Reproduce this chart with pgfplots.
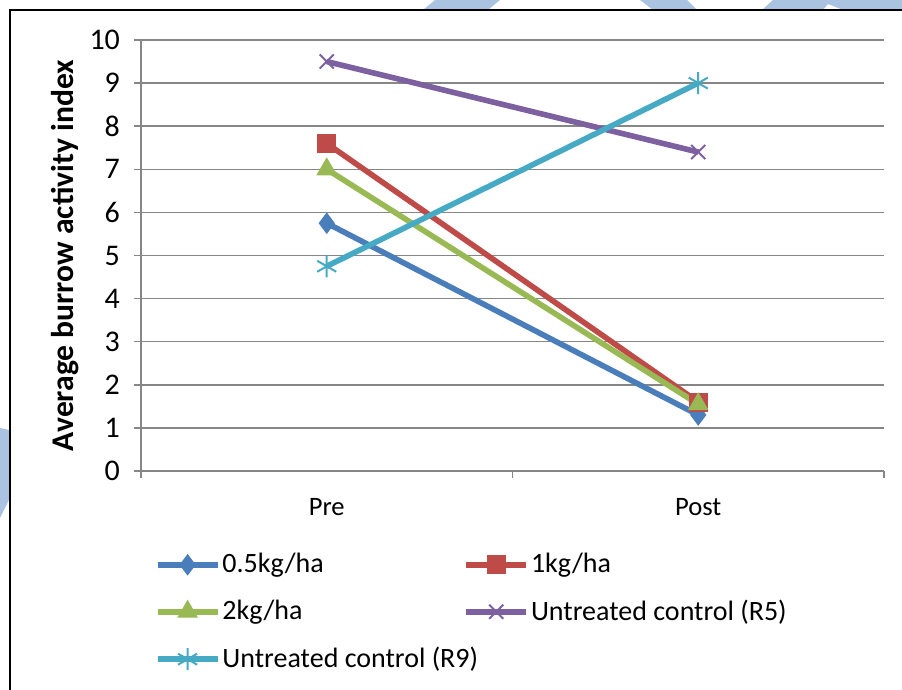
\documentclass[border=0pt]{standalone}
\usepackage{fontspec}
\setmainfont{Carlito}
\usepackage{pgfplots}
\pgfplotsset{compat=1.18}
\definecolor{s1}{HTML}{4A7EBB}
\definecolor{s2}{HTML}{BE4B48}
\definecolor{s3}{HTML}{98B954}
\definecolor{s4}{HTML}{7D60A0}
\definecolor{s5}{HTML}{46AAC5}
\definecolor{gridc}{HTML}{868686}
\definecolor{wm}{HTML}{A9C3E1}
\begin{document}
\begin{tikzpicture}
\begin{scope}[x=0.5pt,y=-0.5pt]
\path[use as bounding box] (0,0) rectangle (902,690);
\fill[wm] (435,0) -- (500,0) -- (488,10) -- (423,10) -- cycle;
\fill[wm] (640,0) -- (687,0) -- (697,10) -- (653,10) -- cycle;
\fill[wm] (773,0) -- (902,0) -- (902,10) -- (843,10) -- (828,4) -- (823,10) -- (762,10) -- cycle;
\fill[wm] (0,428) -- (9,430) -- (9,500) -- (0,518) -- cycle;
\draw[line width=1pt] (10,690) -- (10,10) -- (902,10);
\end{scope}
\begin{axis}[
  at={(70.5pt,-235.5pt)}, anchor=south west,
  scale only axis, width=371.5pt, height=215.5pt,
  xmin=0, xmax=2, ymin=0, ymax=10,
  axis x line*=bottom, axis y line*=left,
  axis line style={gridc, line width=0.75pt},
  ytick={0,1,...,10}, ymajorgrids,
  major grid style={gridc, line width=0.75pt},
  tick align=outside, major tick length=3.5pt,
  tick style={gridc, line width=0.75pt},
  xtick={0,1,2}, xticklabels={},
  extra x ticks={0.5,1.5}, extra x tick labels={Pre,Post},
  extra x tick style={major tick length=0pt, grid=none, xticklabel style={yshift=-10pt}},
  xticklabel style={font=\fontsize{13.3}{16}\selectfont},
  yticklabel style={font=\fontsize{15}{18}\selectfont, xshift=-3.5pt},
  /pgf/number format/assume math mode=true,
  ylabel={Average burrow activity index},
  ylabel style={font=\bfseries\fontsize{15.8}{19}\selectfont, at={(axis description cs:-0.1023,0.5)}, anchor=center},
  clip=false,
  legend columns=2,
  legend cell align=left,
  legend style={draw=none, fill=none, at={(axis description cs:0.01,-0.172)}, anchor=north west,
    font=\fontsize{14}{17}\selectfont, row sep=8pt,
    nodes={inner xsep=1pt},
    /tikz/every even column/.append style={column sep=0pt}},
  legend image code/.code={\draw[mark repeat=2,mark phase=2,#1] plot coordinates {(0pt,0pt) (15pt,0pt) (30pt,0pt)};},
  every axis plot/.append style={line width=2.8pt},
]
\addplot[s1, mark=diamond*, mark size=5pt, mark options={solid,line width=0.5pt}] coordinates {(0.5,5.75) (1.5,1.3)};
\addlegendentry{0.5kg/ha}
\addplot[s2, mark=square*, mark size=4.5pt, mark options={solid,line width=0.5pt}] coordinates {(0.5,7.6) (1.5,1.6)};
\addlegendentry{1kg/ha}
\addplot[s3, mark=triangle*, mark size=5.5pt, mark options={solid,line width=0.5pt}] coordinates {(0.5,7.0) (1.5,1.55)};
\addlegendentry{2kg/ha}
\addplot[s4, mark=x, mark size=5pt, mark options={solid,line width=1pt}] coordinates {(0.5,9.5) (1.5,7.4)};
\addlegendentry{Untreated control (R5)}
\addplot[s5, mark=asterisk, mark size=5.5pt, mark options={solid,line width=1pt}] coordinates {(0.5,4.75) (1.5,9.0)};
\addlegendentry{\makebox[119.5pt][l]{Untreated control (R9)}}
\end{axis}
\end{tikzpicture}
\end{document}
